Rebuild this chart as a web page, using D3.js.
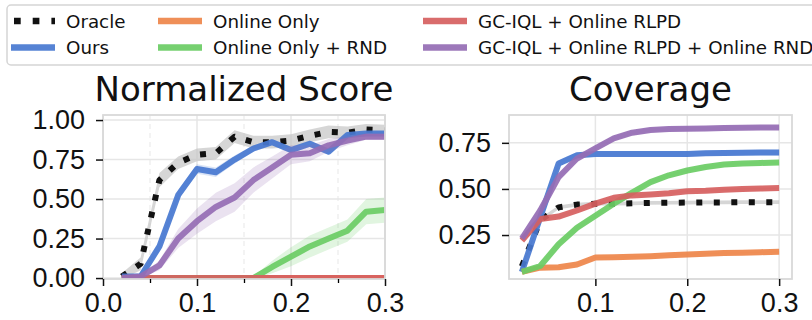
<!DOCTYPE html>
<html>
<head>
<meta charset="utf-8">
<script src="https://cdn.jsdelivr.net/npm/d3@7"></script>
<style>
    body { margin: 0; background: #fff; }
    svg { display: block; font-family: "DejaVu Sans", sans-serif; }
</style>
</head>
<body>
<div id="chart"></div>
<script>
// env steps (fraction of training)
const steps = [0.02, 0.04, 0.06, 0.08, 0.10, 0.12, 0.14, 0.16, 0.18, 0.20, 0.22, 0.24, 0.26, 0.28, 0.30];

const seriesNames = ['Oracle', 'Ours', 'Online Only', 'Online Only + RND', 'GC-IQL + Online RLPD', 'GC-IQL + Online RLPD + Online RND'];
const seriesColors = ['#111111', '#4878d0', '#ee854a', '#6acc64', '#d65f5f', '#956cb4'];

// normalized score
const oracleScore    = [0.01, 0.09, 0.62, 0.73, 0.78, 0.79, 0.895, 0.86, 0.86, 0.87, 0.90, 0.925, 0.92, 0.94, 0.935];
const oursScore      = [0.01, 0.01, 0.20, 0.525, 0.69, 0.67, 0.75, 0.82, 0.86, 0.81, 0.85, 0.80, 0.905, 0.915, 0.915];
const onlineScore    = [0, 0, 0, 0, 0, 0, 0, 0, 0, 0, 0, 0, 0, 0, 0];
const onlineRndScore = [0, 0, 0, 0, 0, 0, 0, 0, 0.07, 0.135, 0.20, 0.25, 0.30, 0.42, 0.43];
const rlpdScore      = [0, 0, 0, 0, 0, 0, 0, 0, 0, 0, 0, 0, 0, 0, 0];
const rlpdRndScore   = [0.0, 0.01, 0.08, 0.25, 0.36, 0.45, 0.51, 0.62, 0.70, 0.78, 0.79, 0.84, 0.87, 0.895, 0.895];

const oracleScoreStd    = [0.02, 0.04, 0.045, 0.04, 0.04, 0.04, 0.04, 0.04, 0.04, 0.04, 0.04, 0.04, 0.04, 0.035, 0.035];
const oursScoreStd      = [0, 0.01, 0.03, 0.03, 0.03, 0.03, 0.025, 0.02, 0.02, 0.02, 0.02, 0.02, 0.015, 0.01, 0.01];
const onlineScoreStd    = [0, 0, 0, 0, 0, 0, 0, 0, 0, 0, 0, 0, 0, 0, 0];
const onlineRndScoreStd = [0, 0, 0, 0, 0, 0, 0, 0.01, 0.04, 0.06, 0.07, 0.07, 0.07, 0.08, 0.08];
const rlpdScoreStd      = [0, 0, 0, 0, 0, 0, 0, 0, 0, 0, 0, 0, 0, 0, 0];
const rlpdRndScoreStd   = [0, 0.01, 0.03, 0.06, 0.08, 0.09, 0.09, 0.08, 0.07, 0.06, 0.05, 0.04, 0.03, 0.02, 0.02];

// coverage
const oracleCov    = [0.08, 0.33, 0.40, 0.415, 0.42, 0.42, 0.422, 0.424, 0.425, 0.426, 0.427, 0.427, 0.428, 0.428, 0.428];
const oursCov      = [0.05, 0.346, 0.638, 0.683, 0.69, 0.69, 0.69, 0.69, 0.69, 0.69, 0.693, 0.695, 0.696, 0.697, 0.697];
const onlineCov    = [0.05, 0.073, 0.075, 0.09, 0.128, 0.13, 0.132, 0.135, 0.14, 0.145, 0.148, 0.152, 0.154, 0.157, 0.159];
const onlineRndCov = [0.05, 0.082, 0.20, 0.29, 0.355, 0.42, 0.48, 0.537, 0.574, 0.60, 0.619, 0.632, 0.638, 0.641, 0.643];
const rlpdCov      = [0.22, 0.337, 0.35, 0.383, 0.42, 0.452, 0.465, 0.47, 0.477, 0.488, 0.49, 0.495, 0.50, 0.502, 0.505];
const rlpdRndCov   = [0.231, 0.383, 0.564, 0.665, 0.72, 0.774, 0.805, 0.82, 0.825, 0.826, 0.828, 0.83, 0.832, 0.833, 0.833];

const oracleCovStd    = [0.012, 0.012, 0.01, 0.01, 0.01, 0.01, 0.01, 0.01, 0.01, 0.01, 0.01, 0.01, 0.01, 0.01, 0.01];
const oursCovStd      = [0.005, 0.01, 0.015, 0.015, 0.015, 0.015, 0.015, 0.015, 0.015, 0.015, 0.015, 0.015, 0.015, 0.015, 0.015];
const onlineCovStd    = [0.004, 0.004, 0.004, 0.004, 0.004, 0.004, 0.004, 0.004, 0.004, 0.004, 0.004, 0.004, 0.004, 0.004, 0.004];
const onlineRndCovStd = [0.005, 0.005, 0.006, 0.006, 0.006, 0.006, 0.006, 0.006, 0.006, 0.006, 0.006, 0.006, 0.006, 0.006, 0.006];
const rlpdCovStd      = [0.005, 0.006, 0.006, 0.006, 0.006, 0.006, 0.006, 0.006, 0.006, 0.006, 0.006, 0.006, 0.006, 0.006, 0.006];
const rlpdRndCovStd   = [0.008, 0.01, 0.01, 0.01, 0.01, 0.01, 0.01, 0.01, 0.01, 0.01, 0.01, 0.01, 0.01, 0.01, 0.01];

const scoreXTicks = [0.0, 0.1, 0.2, 0.3];
const scoreXMinor = [0.05, 0.15, 0.25];
const scoreYTicks = [0.0, 0.25, 0.5, 0.75, 1.0];
const covXTicks = [0.1, 0.2, 0.3];
const covYTicks = [0.25, 0.5, 0.75];

const width = 812, height = 320;
const svg = d3.select('#chart').append('svg')
    .attr('width', width)
    .attr('height', height);

function panel({ id, title, left, right, top, bottom, xDomain, yDomain, xTicks, xMinor, yTicks, means, stds }) {
    const x = d3.scaleLinear().domain(xDomain).range([left, right]);
    const y = d3.scaleLinear().domain(yDomain).range([bottom, top]);
    const g = svg.append('g');

    g.append('clipPath').attr('id', id)
        .append('rect')
        .attr('x', left).attr('y', top)
        .attr('width', right - left).attr('height', bottom - top);

    // grid
    g.selectAll('.gx').data(xTicks).join('line')
        .attr('x1', d => x(d)).attr('x2', d => x(d))
        .attr('y1', top).attr('y2', bottom)
        .attr('stroke', '#e6e6e6').attr('stroke-width', 1.5);
    g.selectAll('.gm').data(xMinor || []).join('line')
        .attr('x1', d => x(d)).attr('x2', d => x(d))
        .attr('y1', top).attr('y2', bottom)
        .attr('stroke', '#ececec').attr('stroke-width', 1.2)
        .attr('stroke-dasharray', '5,4');
    g.selectAll('.gy').data(yTicks).join('line')
        .attr('x1', left).attr('x2', right)
        .attr('y1', d => y(d)).attr('y2', d => y(d))
        .attr('stroke', '#e6e6e6').attr('stroke-width', 1.5);

    const plot = g.append('g').attr('clip-path', `url(#${id})`);

    const area = d3.area()
        .x((d, i) => x(steps[i]))
        .y0(d => y(d[0]))
        .y1(d => y(d[1]));
    const line = d3.line()
        .x((d, i) => x(steps[i]))
        .y(d => y(d));

    means.forEach((m, k) => {
        const band = m.map((v, i) => [v - stds[k][i], v + stds[k][i]]);
        plot.append('path')
            .attr('d', area(band))
            .attr('fill', k === 0 ? '#c4c4c4' : seriesColors[k])
            .attr('fill-opacity', k === 0 ? 0.7 : 0.2);
        plot.append('path')
            .attr('d', line(m))
            .attr('fill', 'none')
            .attr('stroke', seriesColors[k])
            .attr('stroke-opacity', k === 0 ? 1 : 0.92)
            .attr('stroke-width', 6)
            .attr('stroke-linejoin', 'round')
            .attr('stroke-dasharray', k === 0 ? '6,11.5' : null);
    });

    // frame
    g.append('rect')
        .attr('x', left).attr('y', top)
        .attr('width', right - left).attr('height', bottom - top)
        .attr('fill', 'none')
        .attr('stroke', '#d9d9d9').attr('stroke-width', 1.8);

    // axes
    const xAxis = d3.axisBottom(x).tickValues(xTicks).tickFormat(d3.format('.1f'))
        .tickSize(7).tickPadding(5);
    const xg = g.append('g')
        .attr('transform', `translate(0,${bottom})`)
        .call(xAxis);
    if (xMinor) {
        g.append('g')
            .attr('transform', `translate(0,${bottom})`)
            .call(d3.axisBottom(x).tickValues(xMinor).tickFormat('').tickSize(4))
            .call(a => a.select('.domain').remove())
            .selectAll('line').attr('stroke-width', 1.3);
    }
    const yAxis = d3.axisLeft(y).tickValues(yTicks).tickFormat(d3.format('.2f'))
        .tickSize(7).tickPadding(11);
    const yg = g.append('g')
        .attr('transform', `translate(${left},0)`)
        .call(yAxis);

    [xg, yg].forEach(a => {
        a.select('.domain').remove();
        a.selectAll('line').attr('stroke', '#111').attr('stroke-width', 1.5);
        a.selectAll('text')
            .attr('fill', '#111')
            .style('font-size', '27px');
    });
    xg.selectAll('text').attr('dy', '0.78em');

    g.append('text')
        .attr('x', (left + right) / 2)
        .attr('y', 101)
        .attr('text-anchor', 'middle')
        .attr('fill', '#111')
        .style('font-size', '34px')
        .text(title);
}

panel({
    id: 'clipScore',
    title: 'Normalized Score',
    left: 103, right: 385, top: 115, bottom: 279,
    xDomain: [0, 0.3],
    yDomain: [-0.006, 1.032],
    xTicks: scoreXTicks,
    xMinor: scoreXMinor,
    yTicks: scoreYTicks,
    means: [oracleScore, oursScore, onlineScore, onlineRndScore, rlpdScore, rlpdRndScore],
    stds: [oracleScoreStd, oursScoreStd, onlineScoreStd, onlineRndScoreStd, rlpdScoreStd, rlpdRndScoreStd],
});

panel({
    id: 'clipCov',
    title: 'Coverage',
    left: 509, right: 792, top: 115, bottom: 279,
    xDomain: [0.006, 0.314],
    yDomain: [0.0115, 0.901],
    xTicks: covXTicks,
    xMinor: null,
    yTicks: covYTicks,
    means: [oracleCov, oursCov, onlineCov, onlineRndCov, rlpdCov, rlpdRndCov],
    stds: [oracleCovStd, oursCovStd, onlineCovStd, onlineRndCovStd, rlpdCovStd, rlpdRndCovStd],
});

// legend
const legend = svg.append('g');
legend.append('rect')
    .attr('x', 7).attr('y', 5)
    .attr('width', 840).attr('height', 60)
    .attr('rx', 4)
    .attr('fill', '#fff')
    .attr('stroke', '#d5d5d5').attr('stroke-width', 1.5);

const colX = [11, 158, 423];
const rowY = [21, 47.5];
seriesNames.forEach((name, k) => {
    const cx = colX[Math.floor(k / 2)];
    const cy = rowY[k % 2];
    legend.append('line')
        .attr('x1', k === 0 ? cx + 3 : cx).attr('x2', cx + 44)
        .attr('y1', cy).attr('y2', cy)
        .attr('stroke', seriesColors[k])
        .attr('stroke-opacity', k === 0 ? 1 : 0.92)
        .attr('stroke-width', 6.7)
        .attr('stroke-dasharray', k === 0 ? '6.7,12' : null);
    legend.append('text')
        .attr('x', cx + 55)
        .attr('y', cy + 6.5)
        .attr('fill', '#111')
        .style('font-size', '18.3px')
        .text(name);
});
</script>
</body>
</html>
